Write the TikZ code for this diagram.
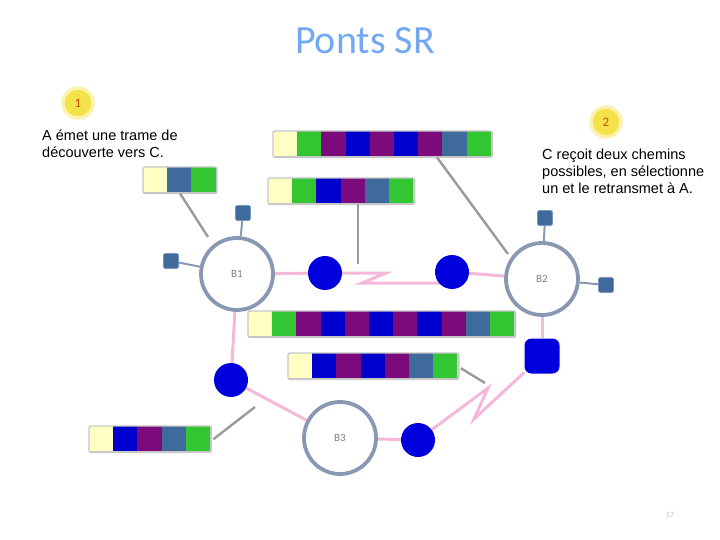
\documentclass[tikz,border=0pt]{standalone}
\usepackage{fontspec}
\setmainfont{Carlito}
\newfontfamily\notefont{Liberation Sans}
\usetikzlibrary{calc}
\definecolor{yellowc}{HTML}{FFFFC4}
\definecolor{greenc}{HTML}{33C633}
\definecolor{purplec}{HTML}{7C0A7C}
\definecolor{bluec}{HTML}{0000CC}
\definecolor{steelc}{HTML}{3F6A9C}
\definecolor{pinkc}{HTML}{F6B8D8}
\definecolor{ringc}{HTML}{8898B2}
\definecolor{callc}{HTML}{9A9A9A}
\definecolor{titlec}{HTML}{72A8F0}
\definecolor{dotc}{HTML}{0000DD}
\definecolor{numc}{HTML}{F3E24A}
\pgfdeclarelayer{bg}
\pgfsetlayers{bg,main}
\newcommand\trame[4]{% name, position, number of cells, colours
  \node[framebox, minimum width=#3*24.2pt, anchor=north west] (#1) at (#2) {};
  \foreach \c [count=\i from 0] in {#4} {
    \fill[\c] ($(#1.north west)+(\i*24.2,0)$) rectangle ++(24.2,25);
  }
  \draw[framebox] (#1.north west) rectangle (#1.south east);
}
\begin{document}
\begin{tikzpicture}[x=1pt,y=-1pt,
  framebox/.style={draw=black!22, line width=1.4pt, rounded corners=2pt, minimum height=25pt, inner sep=0pt},
  bridge/.style={circle, draw=ringc, line width=3.8pt, fill=white, minimum size=72pt, inner sep=0pt, text=black!50, font=\fontsize{11}{13}\selectfont},
  port/.style={circle, fill=dotc, minimum size=34pt, inner sep=0pt},
  portsq/.style={rectangle, rounded corners=7pt, fill=dotc, minimum size=35pt, inner sep=0pt},
  host/.style={rectangle, rounded corners=2pt, fill=steelc, draw=steelc!70, line width=0.8pt, minimum size=15pt, inner sep=0pt},
  hostlink/.style={draw=ringc, line width=2pt},
  lan/.style={draw=pinkc, line width=3pt, line join=miter},
  callout/.style={draw=callc, line width=2.4pt},
  numball/.style={circle, fill=numc, draw=numc!45, line width=3.5pt, minimum size=30pt, inner sep=0pt, text=orange!75!red!80!black, font=\fontsize{13}{15}\selectfont},
  note/.style={anchor=north west, align=left, inner sep=0pt, font=\notefont\fontsize{14.5}{16.7}\selectfont}
]
\useasboundingbox (0,0) rectangle (720,540);

% title
\node[text=titlec, font=\fontsize{40}{44}\selectfont] (title) at (365,41) {Ponts SR};

% numbered notes
\node[numball] (n1) at (78,103) {1};
\node[note] (t1) at (42,130) {A émet une trame de\\découverte vers C.};
\node[numball] (n2) at (606,122) {2};
\node[note] (t2) at (542,149) {C reçoit deux chemins\\possibles, en sélectionne\\un et le retransmet à A.};

% bridges
\node[bridge] (B1) at (237,274) {B1};
\node[bridge] (B2) at (542,279) {B2};
\node[bridge] (B3) at (340,438) {B3};

% ports
\node[port] (p1) at (325,273) {};
\node[port] (p2) at (452,272) {};
\node[port] (p3) at (231,380) {};
\node[port] (p4) at (418,440) {};
\node[portsq] (p5) at (542,356) {};

% hosts
\node[host] (h1) at (243,213) {};
\node[host] (h2) at (171,261) {};
\node[host] (h3) at (545,218) {};
\node[host] (h4) at (606,285) {};

\draw[hostlink] (h1) -- (B1);
\draw[hostlink] (h2) -- (B1);
\draw[hostlink] (h3) -- (B2);
\draw[hostlink] (h4) -- (B2);

% LAN links
\coordinate (z1) at (386,271);
\coordinate (z2) at (362,283);
\coordinate (z3) at (488,388);
\coordinate (z4) at (474,419);
\begin{pgfonlayer}{bg}
  \draw[lan] (B1) -- (p1);
  \draw[lan] (p1) -- (p1 -| z1) -- (z2) -- (z2 -| p2) -- (p2);
  \draw[lan] (p2) -- (B2);
  \draw[lan] (B1) -- (p3);
  \draw[lan] (p3) -- (B3);
  \draw[lan] (B3) -- (p4);
  \draw[lan] (p4) -- (z3) -- (z4) -- (p5);
  \draw[lan] (p5) -- (B2);
\end{pgfonlayer}

% frames
\trame{fa}{143,167}{3}{yellowc,steelc,greenc}
\trame{f1}{273,131}{9}{yellowc,greenc,purplec,bluec,purplec,bluec,purplec,steelc,greenc}
\trame{f2}{268,178}{6}{yellowc,greenc,bluec,purplec,steelc,greenc}
\trame{f3}{248,311}{11}{yellowc,greenc,purplec,bluec,purplec,bluec,purplec,bluec,purplec,steelc,greenc}
\trame{f4}{288,353}{7}{yellowc,bluec,purplec,bluec,purplec,steelc,greenc}
\trame{f5}{89,426}{5}{yellowc,bluec,purplec,steelc,greenc}

% callouts
\coordinate (c1) at (208,237);
\coordinate (c2) at (358,264);
\coordinate (c3) at (508,254);
\coordinate (c4) at (485,383);
\coordinate (c5) at (255,407);
\draw[callout] ($(fa.south west)+(37,0)$) -- (c1);
\draw[callout] ($(f2.south west)+(90,0)$) -- (c2);
\draw[callout] ($(f1.south west)+(164,0)$) -- (c3);
\draw[callout] ($(f4.east)+(2,2)$) -- (c4);
\draw[callout] ($(f5.east)+(2,0)$) -- (c5);

% page number
\node[text=black!25, font=\fontsize{8}{9}\selectfont] (pg) at (670,515) {17};
\end{tikzpicture}
\end{document}
